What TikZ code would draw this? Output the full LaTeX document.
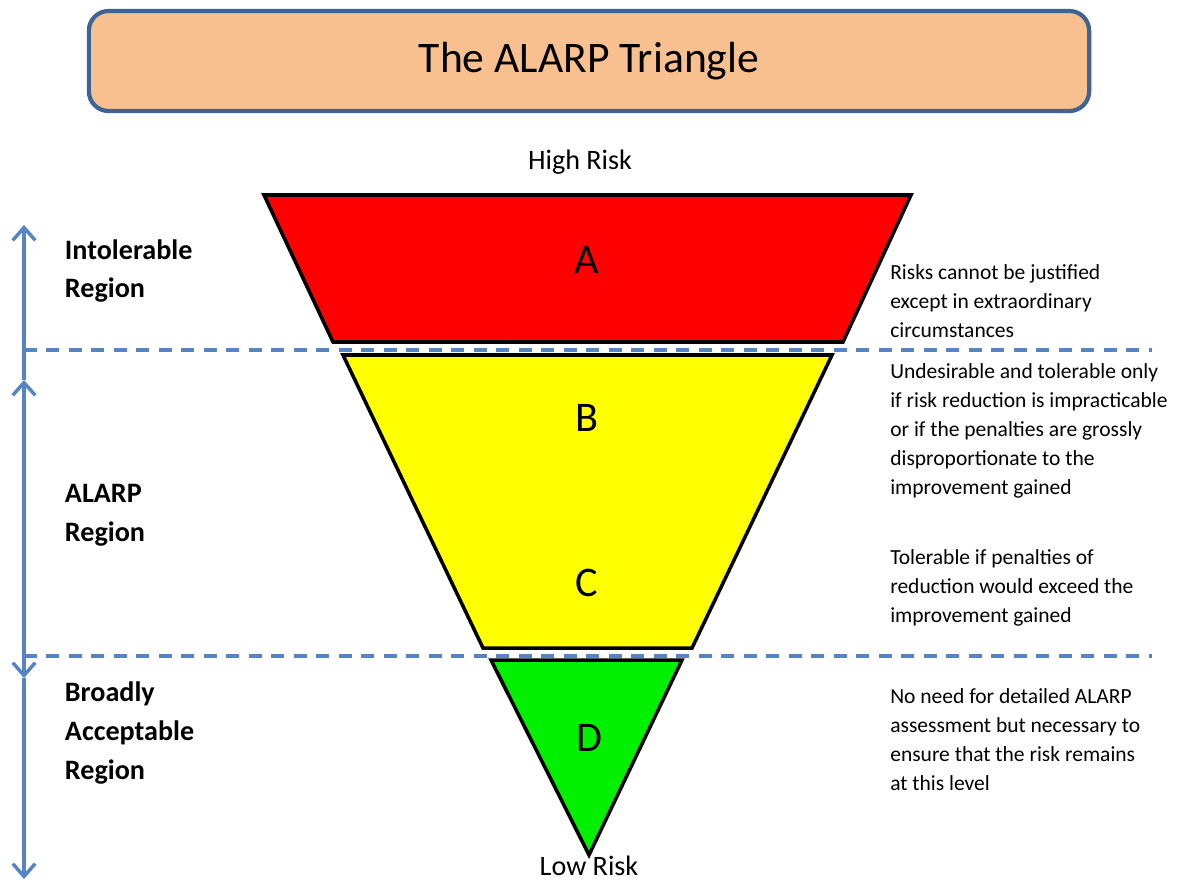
\documentclass[tikz,border=0pt]{standalone}
\usepackage{fontspec}
\setmainfont{Carlito}
\usepackage{tikz}
\usepackage{xcolor}
\usetikzlibrary{arrows.meta}

\definecolor{peach}{HTML}{F8C08F}
\definecolor{framecol}{HTML}{3E6494}
\definecolor{guidecol}{HTML}{5585C5}
\definecolor{riskred}{HTML}{FF0000}
\definecolor{riskyellow}{HTML}{FFFF00}
\definecolor{riskgreen}{HTML}{00F000}

\begin{document}
\begin{tikzpicture}[x=0.025cm,y=-0.025cm]
    \tikzstyle{zone}=[draw=black,line width=2.5pt,line join=miter]
    \tikzstyle{letter}=[font=\fontsize{30}{36}\selectfont]
    \tikzstyle{region}=[anchor=west,align=left,font=\fontsize{20}{27.7}\selectfont\bfseries]
    \tikzstyle{note}=[anchor=west,align=left,inner sep=0pt,font=\fontsize{15.3}{20.6}\selectfont]
    \tikzstyle{limit}=[draw=guidecol,line width=2.5pt,dash pattern=on 9pt off 7pt]
    \tikzstyle{span}=[draw=guidecol,line width=2.5pt,-{Straight Barb[length=9pt,width=16pt]}]

    \useasboundingbox (0,0) rectangle (1196,882);

    % Title
    \node [draw=framecol,line width=3pt,fill=peach,rounded corners=14pt,
        minimum width=25cm,minimum height=2.5cm,
        font=\fontsize{31}{38}\selectfont] (title) at (589,61) {The ALARP Triangle};

    % Triangle
    \filldraw [zone,fill=riskred] (264,195) -- (911,195) -- (843,342) -- (333,342) -- cycle;
    \filldraw [zone,fill=riskyellow] (343,355) -- (832,355) -- (692,648) -- (483,648) -- cycle;
    \filldraw [zone,fill=riskgreen] (491,660) -- (682,660) -- (589,855) -- cycle;

    \node [letter] (A) at (587,260) {A};
    \node [letter] (B) at (587,418) {B};
    \node [letter] (C) at (587,583) {C};
    \node [letter] (D) at (589,738) {D};

    \node [font=\fontsize{20}{24}\selectfont] (high) at (580,162) {High Risk};
    \node [font=\fontsize{20}{24}\selectfont] (low) at (589,866) {Low Risk};

    % Region boundaries
    \coordinate (b1w) at (24,350);
    \coordinate (b1e) at (1152,350);
    \coordinate (b2w) at (24,656);
    \coordinate (b2e) at (1152,656);
    \draw [limit] (b1w) -- (b1e);
    \draw [limit] (b2w) -- (b2e);

    % Side arrows
    \coordinate (top) at (24,225);
    \coordinate (up) at (24,380);
    \coordinate (down) at (24,678);
    \coordinate (bottom) at (24,879);
    \draw [span] (b1w) -- (top);
    \draw [draw=guidecol,line width=2.5pt] (b1w) -- (up);
    \draw [span] (b2w) -- (up);
    \draw [span] (b2w) -- (down);
    \draw [span] (down) -- (bottom);

    \node [region] (intol) at (60,271) {Intolerable\\Region};
    \node [region] (alarp) at (60,515) {ALARP\\Region};
    \node [region] (broad) at (60,733) {Broadly\\Acceptable\\Region};

    % Notes
    \node [note] (nA) at (890,301) {Risks cannot be justified\\except in extraordinary\\circumstances};
    \node [note] (nB) at (890,431) {Undesirable and tolerable only\\if risk reduction is impracticable\\or if the penalties are grossly\\disproportionate to the\\improvement gained};
    \node [note] (nC) at (890,588) {Tolerable if penalties of\\reduction would exceed the\\improvement gained};
    \node [note] (nD) at (890,740) {No need for detailed ALARP\\assessment but necessary to\\ensure that the risk remains\\at this level};
\end{tikzpicture}
\end{document}
